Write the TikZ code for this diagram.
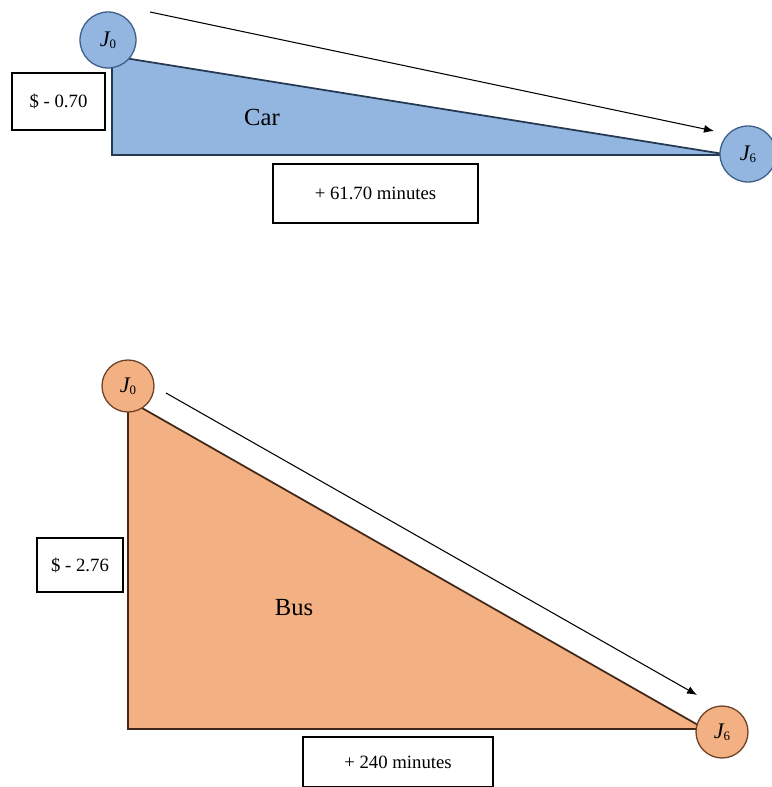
\documentclass[tikz,border=0pt]{standalone}
\usepackage{fontspec}
\setmainfont{Liberation Serif}
\usetikzlibrary{arrows.meta}
\definecolor{carfill}{RGB}{146,182,224}
\definecolor{carline}{RGB}{62,96,136}
\definecolor{busfill}{RGB}{243,176,130}
\definecolor{busline}{RGB}{110,66,40}
\newcommand{\jlabel}[1]{{\fontsize{19}{20}\selectfont\itshape J}\raisebox{-0.45ex}{\fontsize{11}{12}\selectfont #1}}
\tikzset{
	stop/.style={circle,draw,line width=1.1pt,inner sep=0pt},
	costbox/.style={draw,line width=0.9pt,font=\fontsize{16}{19}\selectfont},
	mode/.style={font=\fontsize{21}{24}\selectfont},
	edge/.style={line width=1.5pt,line join=miter},
	move/.style={-{Latex[length=3mm,width=2.4mm]},line width=0.9pt}
}
\begin{document}
\begin{tikzpicture}[x=0.03cm,y=-0.03cm]

	\useasboundingbox (0,0) rectangle (771,787);

	% car
	\coordinate (carTop) at (112,56);
	\coordinate (carCorner) at (112,155);
	\coordinate (carEnd) at (730,155);
	\fill[carfill] (carTop) -- (carCorner) -- (carEnd) -- cycle;
	\draw[edge,carline!60!black] (carTop) -- (carCorner) -- (carEnd) -- cycle;

	\node[stop,fill=carfill,draw=carline,minimum size=1.68cm] (carJ0) at (108,40) {\jlabel{0}};
	\node[stop,fill=carfill,draw=carline,minimum size=1.68cm] (carJ6) at (748,154) {\jlabel{6}};

	\coordinate (carArrowStart) at (150,12);
	\coordinate (carArrowEnd) at (714,131);
	\draw[move] (carArrowStart) -- (carArrowEnd);

	\node[mode] (carName) at (262,117) {Car};
	\node[costbox,minimum width=2.79cm,minimum height=1.71cm] (carCost) at (58.5,101.5) {\$ - 0.70};
	\node[costbox,minimum width=6.15cm,minimum height=1.77cm] (carTime) at (375.5,193.5) {+ 61.70 minutes};

	% bus
	\coordinate (busTop) at (128,400);
	\coordinate (busCorner) at (128,729);
	\coordinate (busEnd) at (705,729);
	\fill[busfill] (busTop) -- (busCorner) -- (busEnd) -- cycle;
	\draw[edge,busline!60!black] (busTop) -- (busCorner) -- (busEnd) -- cycle;

	\node[stop,fill=busfill,draw=busline,minimum size=1.56cm] (busJ0) at (128,386) {\jlabel{0}};
	\node[stop,fill=busfill,draw=busline,minimum size=1.56cm] (busJ6) at (722,732) {\jlabel{6}};

	\coordinate (busArrowStart) at (166,393);
	\coordinate (busArrowEnd) at (697,695);
	\draw[move] (busArrowStart) -- (busArrowEnd);

	\node[mode] (busName) at (294,608) {Bus};
	\node[costbox,minimum width=2.58cm,minimum height=1.62cm] (busCost) at (80,565) {\$ - 2.76};
	\node[costbox,minimum width=5.7cm,minimum height=1.5cm] (busTime) at (398,762) {+ 240 minutes};

\end{tikzpicture}
\end{document}
